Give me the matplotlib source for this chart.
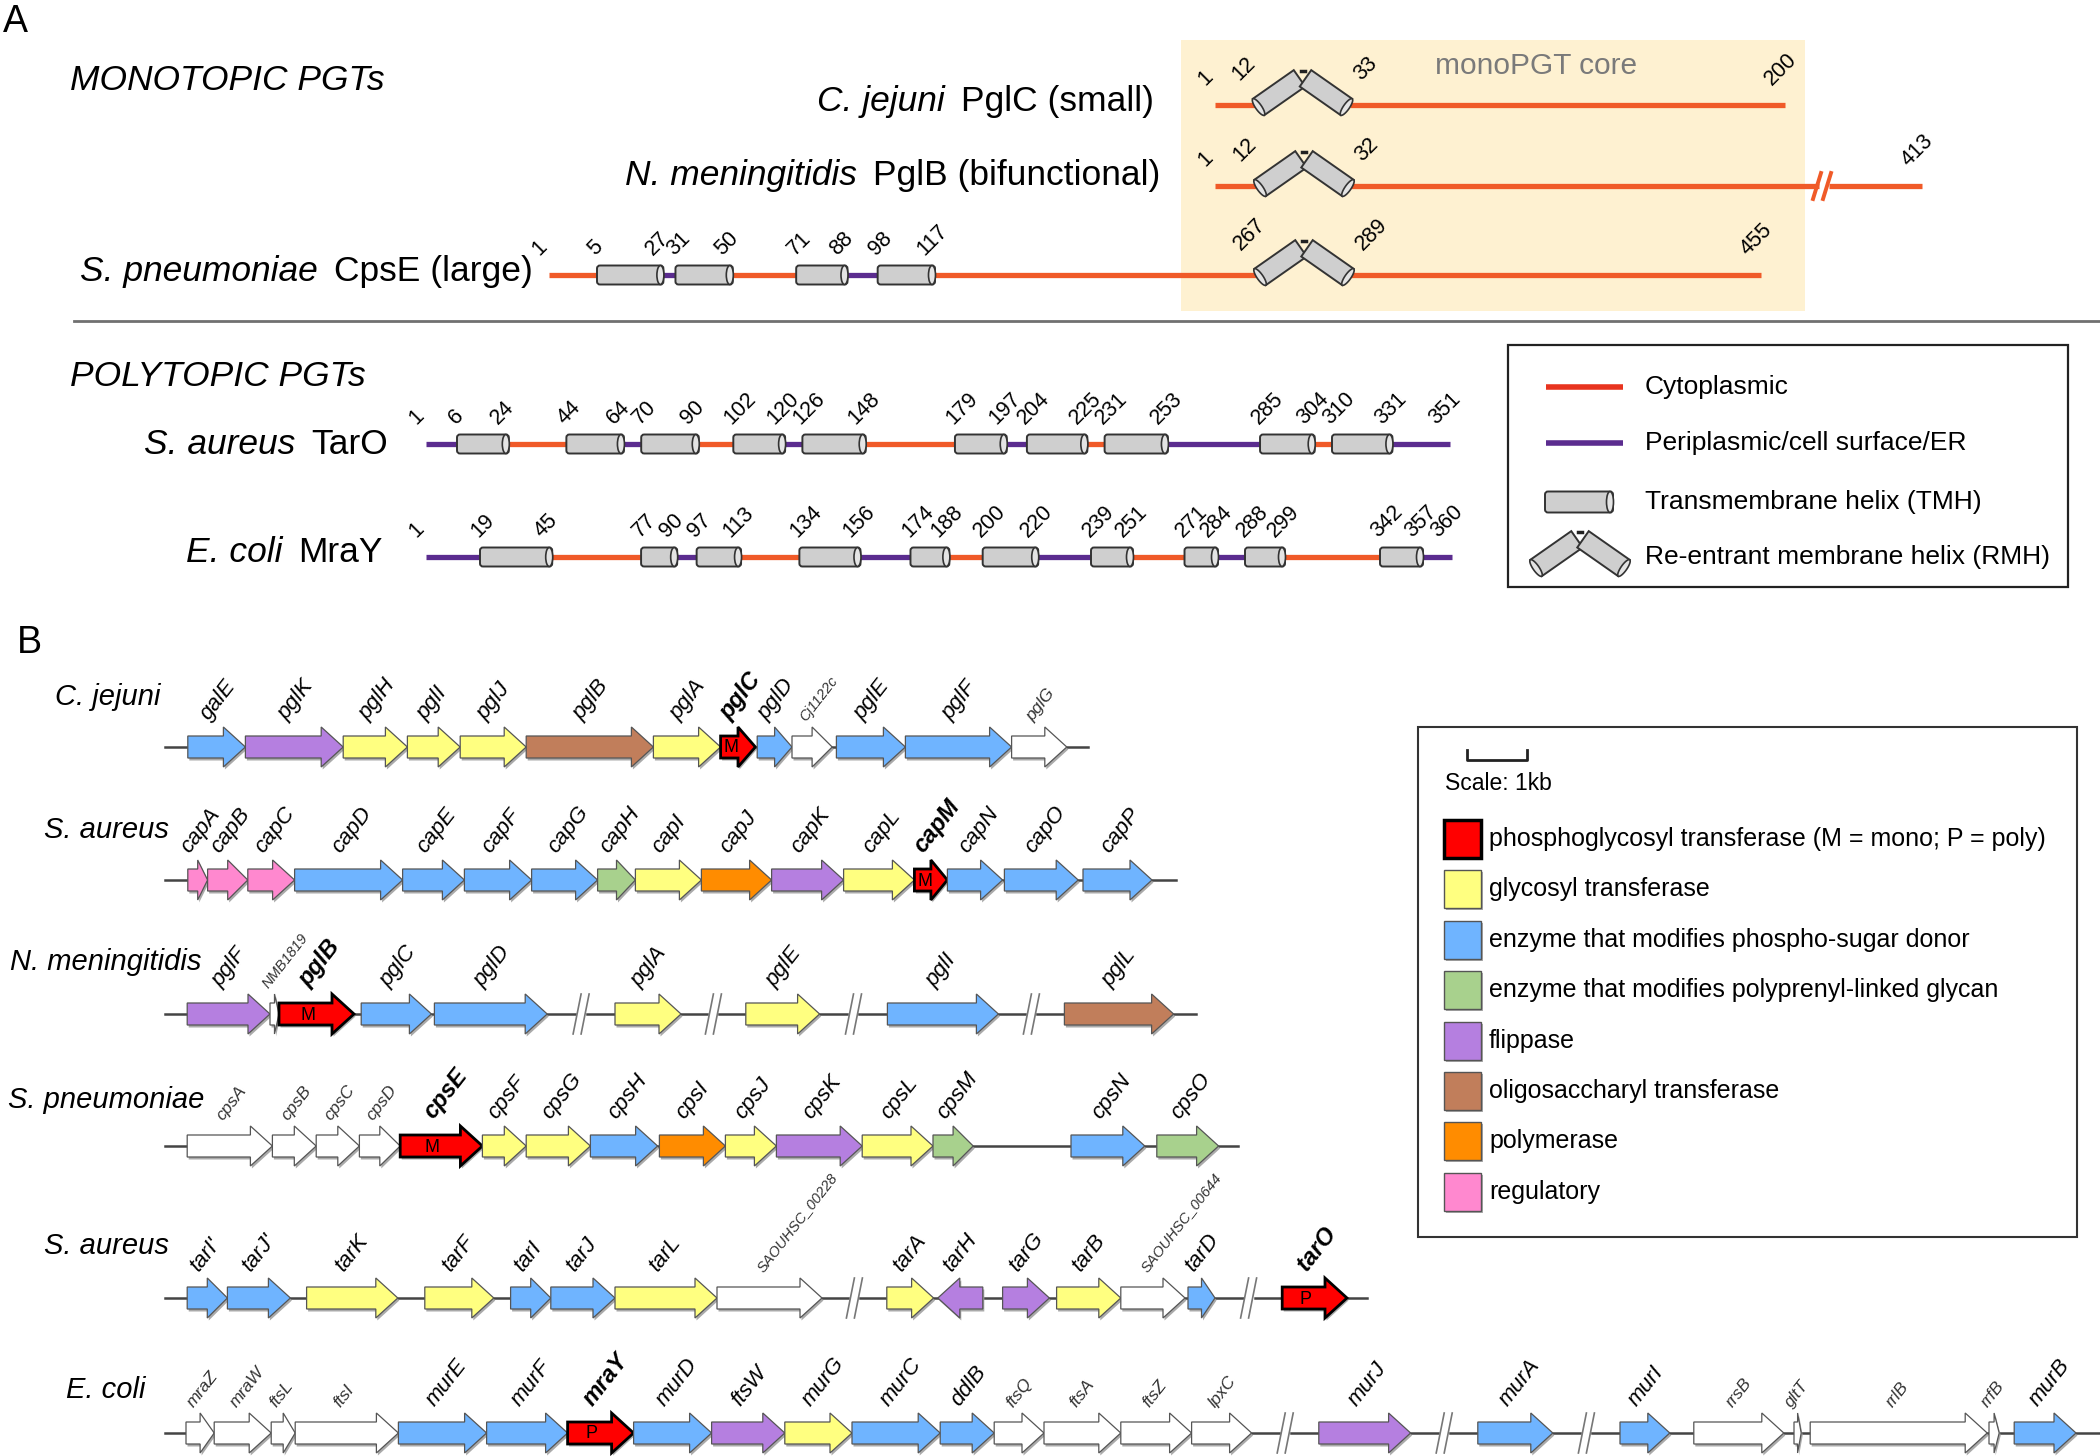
import numpy as np
import matplotlib.pyplot as plt
from matplotlib.patches import Polygon, Rectangle, FancyBboxPatch, Ellipse

plt.rcParams['font.family'] = ['Liberation Sans', 'DejaVu Sans']

# ---------------- panel A: residue numbers ----------------
cj_length = 200
cj_rmh = (12, 33)
nm_length = 413
nm_rmh = (12, 32)
cpse_length = 455
cpse_tmh = [(5, 27), (31, 50), (71, 88), (98, 117)]
cpse_rmh = (267, 289)
taro_length = 351
taro_tmh = [(6, 24), (44, 64), (70, 90), (102, 120), (126, 148),
            (179, 197), (204, 225), (231, 253), (285, 304), (310, 331)]
mray_length = 360
mray_tmh = [(19, 45), (77, 90), (97, 113), (134, 156), (174, 188),
            (200, 220), (239, 251), (271, 284), (288, 299), (342, 357)]

# ---------------- panel B: gene clusters (lengths in kb) ----------------
cj_genes = ['galE', 'pglK', 'pglH', 'pglI', 'pglJ', 'pglB', 'pglA', 'pglC', 'pglD',
            'Cj1122c', 'pglE', 'pglF', 'pglG']
cj_kb = [0.96, 1.63, 1.07, 0.88, 1.10, 2.12, 1.12, 0.58, 0.58, 0.67, 1.15, 1.77, 0.92]
cj_kind = ['mod', 'flip', 'gt', 'gt', 'gt', 'ost', 'gt', 'pgtM', 'mod', 'none', 'mod', 'mod', 'none']
cj_gap = [0.38, 0, 0, 0, 0, 0, 0, 0, 0.03, 0, 0.07, 0, 0]
cj_tail = 0.35

cap_genes = ['capA', 'capB', 'capC', 'capD', 'capE', 'capF', 'capG', 'capH', 'capI',
             'capJ', 'capK', 'capL', 'capM', 'capN', 'capO', 'capP']
cap_kb = [0.33, 0.67, 0.78, 1.80, 1.03, 1.12, 1.10, 0.63, 1.10, 1.17, 1.20, 1.18,
          0.55, 0.92, 1.23, 1.15]
cap_kind = ['reg', 'reg', 'reg', 'mod', 'mod', 'mod', 'mod', 'pgl', 'gt', 'pol', 'flip',
            'gt', 'pgtM', 'mod', 'mod', 'mod']
cap_gap = [0.38, 0, 0, 0, 0, 0, 0, 0, 0, 0, 0, 0, 0, 0, 0.03, 0.08]
cap_tail = 0.4

nm_genes = ['pglF', 'NMB1819', 'pglB', 'pglC', 'pglD', 'pglA', 'pglE', 'pglI', 'pglL']
nm_kb = [1.38, 0.15, 1.25, 1.17, 1.88, 1.10, 1.23, 1.85, 1.82]
nm_kind = ['flip', 'none', 'pgtM', 'mod', 'mod', 'gt', 'gt', 'mod', 'ost']
nm_gap = [0.37, 0, 0, 0.12, 0.05, 1.13, 1.08, 1.13, 1.10]
nm_breaks = [5, 6, 7, 8]
nm_tail = 0.38

sp_genes = ['cpsA', 'cpsB', 'cpsC', 'cpsD', 'cpsE', 'cpsF', 'cpsG', 'cpsH', 'cpsI',
            'cpsJ', 'cpsK', 'cpsL', 'cpsM', 'cpsN', 'cpsO']
sp_kb = [1.42, 0.73, 0.72, 0.68, 1.37, 0.73, 1.07, 1.12, 1.10, 0.85, 1.43, 1.18,
         0.67, 1.23, 1.03]
sp_kind = ['none', 'none', 'none', 'none', 'pgtM', 'gt', 'gt', 'mod', 'pol', 'gt',
           'flip', 'gt', 'pgl', 'mod', 'pgl']
sp_gap = [0.37, 0, 0, 0, 0, 0, 0, 0, 0.03, 0, 0, 0, 0, 1.63, 0.2]
sp_tail = 0.33

tar_genes = ["tarI'", "tarJ'", 'tarK', 'tarF', 'tarI', 'tarJ', 'tarL', 'SAOUHSC_00228',
             'tarA', 'tarH', 'tarG', 'tarB', 'SAOUHSC_00644', 'tarD', 'tarO']
tar_kb = [0.67, 1.05, 1.52, 1.15, 0.67, 1.07, 1.70, 1.75, 0.78, 0.75, 0.78, 1.07,
          1.07, 0.45, 1.08]
tar_kind = ['mod', 'mod', 'gt', 'gt', 'mod', 'mod', 'gt', 'none', 'gt', 'flip', 'flip',
            'gt', 'none', 'mod', 'pgtP']
tar_gap = [0.37, 0, 0.27, 0.45, 0.28, 0, 0, 0, 1.08, 0.07, 0.33, 0.12, 0, 0.05, 1.12]
tar_breaks = [8, 14]
tar_reverse = ['tarH']
tar_tail = 0.33

ec_genes = ['mraZ', 'mraW', 'ftsL', 'ftsI', 'murE', 'murF', 'mraY', 'murD', 'ftsW',
            'murG', 'murC', 'ddlB', 'ftsQ', 'ftsA', 'ftsZ', 'lpxC', 'murJ', 'murA',
            'murI', 'rrsB', 'gltT', 'rrlB', 'rrfB', 'murB']
ec_kb = [0.47, 0.95, 0.40, 1.72, 1.47, 1.35, 1.10, 1.30, 1.22, 1.12, 1.47, 0.90,
         0.83, 1.28, 1.18, 1.00, 1.53, 1.25, 0.83, 1.50, 0.12, 2.95, 0.17, 1.03]
ec_kind = ['none', 'none', 'none', 'none', 'mod', 'mod', 'pgtP', 'mod', 'flip', 'gt',
           'mod', 'mod', 'none', 'none', 'none', 'none', 'flip', 'mod', 'mod', 'none',
           'none', 'none', 'none', 'mod']
ec_gap = [0.35, 0, 0, 0, 0, 0, 0, 0, 0, 0, 0, 0, 0, 0, 0, 0, 1.12, 1.12, 1.12,
          0.4, 0.17, 0.15, 0.03, 0.25]
ec_breaks = [16, 17, 18]
ec_tail = 0.42

legend_kinds = ['pgtM', 'gt', 'mod', 'pgl', 'flip', 'ost', 'pol', 'reg']
legend_texts = ['phosphoglycosyl transferase (M = mono; P = poly)',
                'glycosyl transferase',
                'enzyme that modifies phospho-sugar donor',
                'enzyme that modifies polyprenyl-linked glycan',
                'flippase',
                'oligosaccharyl transferase',
                'polymerase',
                'regulatory']

# ---------------- styles ----------------
CYTO = '#f05a28'
PERI = '#5b2c8f'
GREY = '#cfcfcf'
gene_colors = {'pgtM': '#ff0000', 'pgtP': '#ff0000', 'gt': '#ffff80', 'mod': '#6fb4ff',
               'pgl': '#a8d18d', 'flip': '#b57fe0', 'ost': '#c17e5b', 'pol': '#ff8c00',
               'reg': '#ff88cf', 'none': '#ffffff'}
PX_PER_KB = 60

fig = plt.figure(figsize=(21, 14.56), dpi=100)
ax = fig.add_axes([0, 0, 1, 1])
ax.set_xlim(0, 2100)
ax.set_ylim(1456, 0)
ax.axis('off')
renderer = fig.canvas.get_renderer()


def tmh(x0, x1, y, h=19):
    ax.add_patch(FancyBboxPatch((x0, y - h / 2), x1 - x0, h,
                                boxstyle='round,pad=0,rounding_size=3',
                                fc=GREY, ec='#333333', lw=1.4, zorder=5))
    ax.add_patch(Ellipse((x1 - 3, y), 7, h, fc='#e4e4e4', ec='#333333', lw=1.2, zorder=6))


def rmh(xc, y, L=50, t=20, th=np.radians(35)):
    y_apex = y + 2 - L * np.sin(th)
    for side in (-1, 1):
        top = np.array([xc + side * 3, y_apex])
        d = np.array([side * np.cos(th), np.sin(th)])
        n = np.array([-np.sin(th), side * np.cos(th)])
        bot = top + L * d
        pts = [top + n * t / 2, bot + n * t / 2, bot - n * t / 2, top - n * t / 2]
        ax.add_patch(Polygon(pts, closed=True, fc=GREY, ec='#333333', lw=1.4, zorder=5))
        s = np.linspace(0, 2 * np.pi, 40)
        cap = [bot + 3 * np.cos(a) * d + t / 2 * np.sin(a) * n for a in s]
        ax.add_patch(Polygon(cap, closed=True, fc='#e4e4e4', ec='#333333', lw=1.2, zorder=6))
    ax.plot([xc - 2, xc + 2], [y_apex - 7, y_apex - 7], color='#222222', lw=2.5, zorder=7)


def num(x, y, s):
    ax.text(x, y, s, rotation=45, rotation_mode='anchor', ha='left', va='bottom',
            fontsize=15.5, zorder=8)


def protein(y, length, helices, res_anchor, px_anchor, start_side, brk=None):
    xmap = lambda r: np.interp(r, res_anchor, px_anchor)
    side = start_side
    pos = 1
    segs = []
    for a, b, kind in helices:
        segs.append((pos, a, side))
        if kind == 'tmh':
            side = 'peri' if side == 'cyto' else 'cyto'
        pos = b
    segs.append((pos, length, side))
    for a, b, s in segs:
        xa, xb = xmap(a), xmap(b)
        c = CYTO if s == 'cyto' else PERI
        if brk is not None and xa < brk < xb:
            ax.plot([xa, brk - 5], [y, y], color=c, lw=3.8, solid_capstyle='butt', zorder=3)
            ax.plot([brk + 5, xb], [y, y], color=c, lw=3.8, solid_capstyle='butt', zorder=3)
            for dx in (-5, 5):
                ax.plot([brk + dx - 6, brk + dx + 2], [y + 13, y - 13], color=c, lw=2.8, zorder=3)
        else:
            ax.plot([xa, xb], [y, y], color=c, lw=3.8, solid_capstyle='butt', zorder=3)
    num(xmap(1) - 6, y - 15, '1')
    for a, b, kind in helices:
        if kind == 'tmh':
            tmh(xmap(a), xmap(b), y)
            num(xmap(a) + 2, y - 15, str(a))
            num(xmap(b) - 7, y - 15, str(b))
        else:
            xc = (xmap(a) + xmap(b)) / 2
            rmh(xc, y)
            num(xc - 60, y - 20, str(a))
            num(xc + 62, y - 20, str(b))
    num(xmap(length) - 10, y - 15, str(length))


def name_label(xr, y, species, name, size=25.5):
    t = ax.text(xr, y, name, ha='right', va='center', fontsize=size)
    w = t.get_window_extent(renderer).width
    ax.text(xr - w - 16, y, species, ha='right', va='center', fontsize=size, style='italic')


# ---------------- panel A ----------------
ax.text(15, 22, 'A', fontsize=27, ha='center', va='center')
ax.text(70, 80, 'MONOTOPIC PGTs', fontsize=25.5, style='italic', va='center')
ax.add_patch(Rectangle((1181, 40), 624, 271, fc='#fef1d1', ec='none', zorder=0))
ax.text(1536, 66, 'monoPGT core', fontsize=21.5, color='#7a7a7a', ha='center', va='center')

protein(105, cj_length, [(cj_rmh[0], cj_rmh[1], 'rmh')],
        [1, 12, 33, 200], [1215, 1255, 1350, 1785], 'cyto')
name_label(1154, 101, 'C. jejuni', 'PglC (small)')
protein(186, nm_length, [(nm_rmh[0], nm_rmh[1], 'rmh')],
        [1, 12, 32, 413], [1215, 1258, 1350, 1922], 'cyto', brk=1824)
name_label(1160, 175, 'N. meningitidis', 'PglB (bifunctional)')
protein(275, cpse_length, [(a, b, 'tmh') for a, b in cpse_tmh] + [(cpse_rmh[0], cpse_rmh[1], 'rmh')],
        [1, 5, 117, 267, 289, 455], [549, 597, 935, 1262, 1346, 1761], 'cyto')
name_label(533, 271, 'S. pneumoniae', 'CpsE (large)')

ax.plot([74, 2100], [321, 321], color='#707070', lw=2, zorder=1)

ax.text(70, 376, 'POLYTOPIC PGTs', fontsize=25.5, style='italic', va='center')
protein(444, taro_length, [(a, b, 'tmh') for a, b in taro_tmh],
        [1, 6, taro_length], [426, 457, 1450], 'peri')
name_label(388, 444, 'S. aureus', 'TarO')
protein(557, mray_length, [(a, b, 'tmh') for a, b in mray_tmh],
        [1, 19, 239, 251, 284, 288, 299, 342, 357, mray_length],
        [426, 480, 1091, 1133, 1218, 1245, 1285, 1380, 1423, 1452], 'peri')
name_label(383, 553, 'E. coli', 'MraY')

# legend A
ax.add_patch(Rectangle((1508, 345), 560, 242, fc='none', ec='#222222', lw=1.6, zorder=2))
ax.plot([1546, 1623], [387, 387], color='#e8341f', lw=4, solid_capstyle='butt')
ax.plot([1546, 1623], [443, 443], color=PERI, lw=4, solid_capstyle='butt')
tmh(1545, 1613, 502, h=21)
rmh(1580, 566)
for yy, s in zip([387, 443, 502, 557], ['Cytoplasmic', 'Periplasmic/cell surface/ER',
                                        'Transmembrane helix (TMH)',
                                        'Re-entrant membrane helix (RMH)']):
    ax.text(1645, yy, s, fontsize=19, va='center')

# ---------------- panel B ----------------
ax.text(29, 643, 'B', fontsize=27, ha='center', va='center')
B_X0 = 165
BH, HH = 11, 20


def gene(x0, x1, y, kind, strand=1):
    L = x1 - x0
    h = min(22, 0.5 * L)
    if strand > 0:
        pts = [(x0, y - BH), (x1 - h, y - BH), (x1 - h, y - HH), (x1, y),
               (x1 - h, y + HH), (x1 - h, y + BH), (x0, y + BH)]
    else:
        pts = [(x1, y - BH), (x0 + h, y - BH), (x0 + h, y - HH), (x0, y),
               (x0 + h, y + HH), (x0 + h, y + BH), (x1, y + BH)]
    shadow = [(px + 1.5, py + 2.5) for px, py in pts]
    ax.add_patch(Polygon(shadow, closed=True, fc='#aaaaaa', ec='none', zorder=3))
    pgt = kind.startswith('pgt')
    ax.add_patch(Polygon(pts, closed=True, fc=gene_colors[kind],
                         ec='#000000' if pgt else '#555555', lw=2 if pgt else 0.9,
                         zorder=4, joinstyle='miter'))
    if pgt:
        ax.text(x0 + (L - h) / 2 + 2, y + 1, kind[-1], fontsize=13, ha='center',
                va='center', zorder=5)


def gene_row(y, names, kb, kinds, gaps, tail, breaks=(), reverse=()):
    x = B_X0
    seg0 = B_X0
    for i, nm in enumerate(names):
        g = gaps[i] * PX_PER_KB
        if i in breaks:
            bx = x + g / 2
            ax.plot([seg0, bx - 6], [y, y], color='#444444', lw=1.8, zorder=2)
            seg0 = bx + 6
            for dx in (-4, 4):
                ax.plot([bx + dx - 4, bx + dx + 4], [y + 20, y - 20], color='#777777',
                        lw=1.2, zorder=2)
        x += g
        x1 = x + kb[i] * PX_PER_KB
        gene(x, x1, y, kinds[i], -1 if nm in reverse else 1)
        cx = (x + x1) / 2
        if kinds[i].startswith('pgt'):
            fs, fw, col = 17, 'bold', '#000000'
        elif kinds[i] == 'none':
            fs, fw, col = (10.5 if len(nm) > 6 else 12.5), 'normal', '#333333'
        else:
            fs, fw, col = 16, 'normal', '#000000'
        ax.text(cx - 4, y - 23, nm, rotation=52, rotation_mode='anchor', ha='left',
                va='bottom', fontsize=fs, fontweight=fw, style='italic', color=col,
                zorder=6)
        x = x1
    ax.plot([seg0, x + tail * PX_PER_KB], [y, y], color='#444444', lw=1.8, zorder=2)


row_y = [747, 880, 1014, 1146, 1298, 1433]
gene_row(row_y[0], cj_genes, cj_kb, cj_kind, cj_gap, cj_tail)
gene_row(row_y[1], cap_genes, cap_kb, cap_kind, cap_gap, cap_tail)
gene_row(row_y[2], nm_genes, nm_kb, nm_kind, nm_gap, nm_tail, breaks=nm_breaks)
gene_row(row_y[3], sp_genes, sp_kb, sp_kind, sp_gap, sp_tail)
gene_row(row_y[4], tar_genes, tar_kb, tar_kind, tar_gap, tar_tail, breaks=tar_breaks,
         reverse=tar_reverse)
gene_row(row_y[5], ec_genes, ec_kb, ec_kind, ec_gap, ec_tail, breaks=ec_breaks)

species_b = ['C. jejuni', 'S. aureus', 'N. meningitidis', 'S. pneumoniae', 'S. aureus', 'E. coli']
species_x = [55, 44, 10, 8, 44, 66]
species_y = [697, 830, 962, 1100, 1246, 1390]
for s, xx, yy in zip(species_b, species_x, species_y):
    ax.text(xx, yy, s, fontsize=21, style='italic', va='center')

# legend B
ax.add_patch(Rectangle((1418, 727), 659, 510, fc='none', ec='#333333', lw=1.5, zorder=2))
ax.plot([1467, 1467, 1467 + PX_PER_KB, 1467 + PX_PER_KB], [750, 760, 760, 750],
        color='#222222', lw=2)
ax.text(1445, 783, 'Scale: 1kb', fontsize=16.5, va='center')
for i, (k, s) in enumerate(zip(legend_kinds, legend_texts)):
    yy = 839 + i * 50.4
    ax.add_patch(Rectangle((1446, yy - 17), 37, 38, fc='#aaaaaa', ec='none', zorder=3))
    pgt = k.startswith('pgt')
    ax.add_patch(Rectangle((1444, yy - 19), 37, 38, fc=gene_colors[k],
                           ec='#000000' if pgt else '#555555', lw=2.5 if pgt else 1,
                           zorder=4))
    ax.text(1489, yy, s, fontsize=18, va='center')

fig.savefig('out.png', dpi=100)
